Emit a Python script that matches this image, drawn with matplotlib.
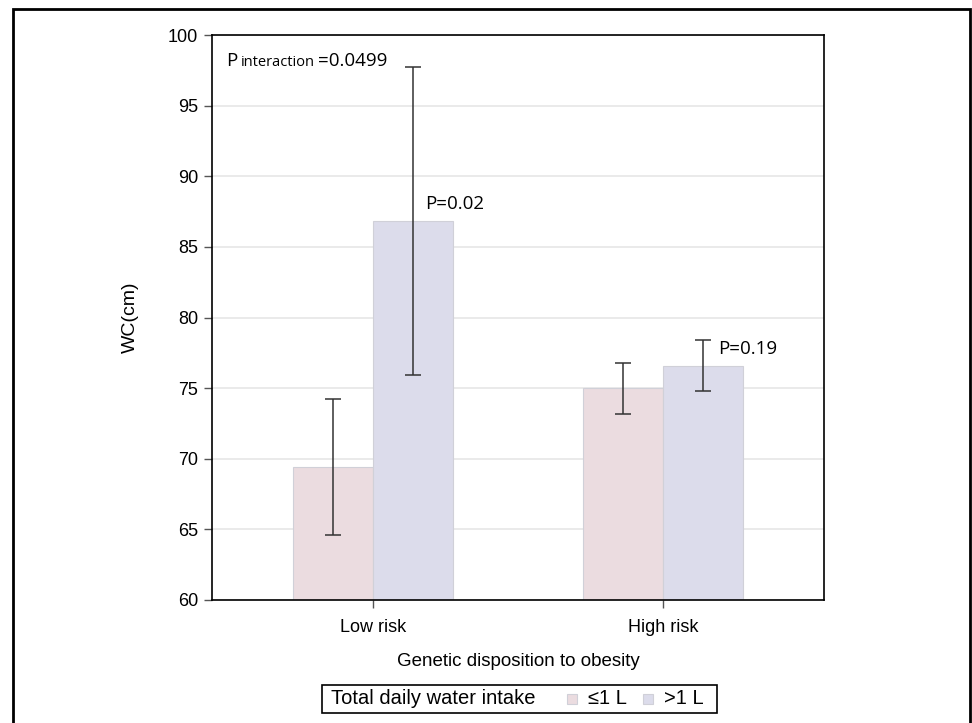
import matplotlib.pyplot as plt
from matplotlib.patches import Rectangle

groups = ['Low risk', 'High risk']
series = ['\u22641 L', '>1 L']
wc_low_water = [69.4, 75.0]
wc_high_water = [86.8, 76.6]
ci_low_water = [(64.6, 74.2), (73.2, 76.8)]
ci_high_water = [(75.9, 97.7), (74.8, 78.4)]
p_labels = ['P=0.02', 'P=0.19']
p_interaction = '0.0499'
legend_title = 'Total daily water intake'

colors = ['#EBDCE0', '#DCDCEB']
edge = '#D0D0D8'
W, H = 972, 723

fig = plt.figure(figsize=(9.72, 7.23), dpi=100)
ax = fig.add_axes([212/W, 1-600/H, 612/W, 565/H])

w = 0.275
x = list(range(len(groups)))
for k, (vals, ci) in enumerate([(wc_low_water, ci_low_water), (wc_high_water, ci_high_water)]):
    xs = [xi + (k - 0.5) * w for xi in x]
    ax.bar(xs, [v - 60 for v in vals], bottom=60, width=w, color=colors[k],
           edgecolor=edge, linewidth=0.8, zorder=2)
    lo = [v - c[0] for v, c in zip(vals, ci)]
    hi = [c[1] - v for v, c in zip(vals, ci)]
    ax.errorbar(xs, vals, yerr=[lo, hi], fmt='none', ecolor='#333333',
                elinewidth=1.1, capsize=5.5, capthick=1.1, zorder=3)

ax.set_xlim(-0.553, 1.553)
ax.set_ylim(60, 100)
ax.set_yticks(range(60, 101, 5))
ax.set_xticks(x)
ax.set_xticklabels(groups)
ax.yaxis.grid(True, color='#E6E6E6', linewidth=1.2, zorder=0)
ax.set_axisbelow(True)
for s in ax.spines.values():
    s.set_linewidth(1.2)
ax.tick_params(axis='both', direction='out', length=6, width=1, color='#555555',
               labelsize=13, pad=4)
ax.tick_params(axis='x', pad=8)
for lab in ax.get_xticklabels() + ax.get_yticklabels():
    lab.set_family('Liberation Sans')
ax.set_ylabel('WC(cm)', family='Liberation Sans', fontsize=14, labelpad=21)
ax.set_xlabel('Genetic disposition to obesity', family='Liberation Sans', fontsize=13.5, labelpad=12)

# p-value annotations
pfont = dict(family='Open Sans', fontsize=13.5, va='baseline', ha='left')
ax.text(0.182, 87.7, p_labels[0], **pfont)
ax.text(1.189, 77.45, p_labels[1], **pfont)
t1 = ax.text(-0.505, 97.8, 'P', **pfont)
fig.canvas.draw()
r = fig.canvas.get_renderer()
bb = t1.get_window_extent(r)
inv = ax.transData.inverted()
x2 = inv.transform((bb.x1 + 4, 0))[0]
t2 = ax.text(x2, 97.8, 'interaction', family='Open Sans', fontsize=10.5, va='baseline', ha='left')
bb2 = t2.get_window_extent(r)
x3 = inv.transform((bb2.x1 + 3, 0))[0]
ax.text(x3, 97.8, '=' + p_interaction, **pfont)

# legend, drawn by hand in pixel positions
def fx(px):
    return px / W

def fy(py):
    return 1 - py / H

lfont = dict(family='Liberation Sans', fontsize=14.5, va='center', ha='left',
             transform=fig.transFigure)
fig.patches.append(Rectangle((fx(322), fy(713)), (717-322)/W, 28/H, transform=fig.transFigure,
                             fill=False, edgecolor='black', linewidth=1.2))
fig.text(fx(331), fy(699), legend_title, **lfont)
for px, tx, c, lab in [(567, 588, colors[0], series[0]), (643, 664, colors[1], series[1])]:
    fig.patches.append(Rectangle((fx(px), fy(704)), 10/W, 10/H, transform=fig.transFigure,
                                 facecolor=c, edgecolor=edge, linewidth=0.8))
    fig.text(fx(tx), fy(699), lab, **lfont)

# outer frame
fig.patches.append(Rectangle((12.5/W, -0.05), (970-12.5)/W, 1.05 - 9/H,
                             transform=fig.transFigure, fill=False, edgecolor='black',
                             linewidth=2))

fig.savefig('out.png', dpi=100)
